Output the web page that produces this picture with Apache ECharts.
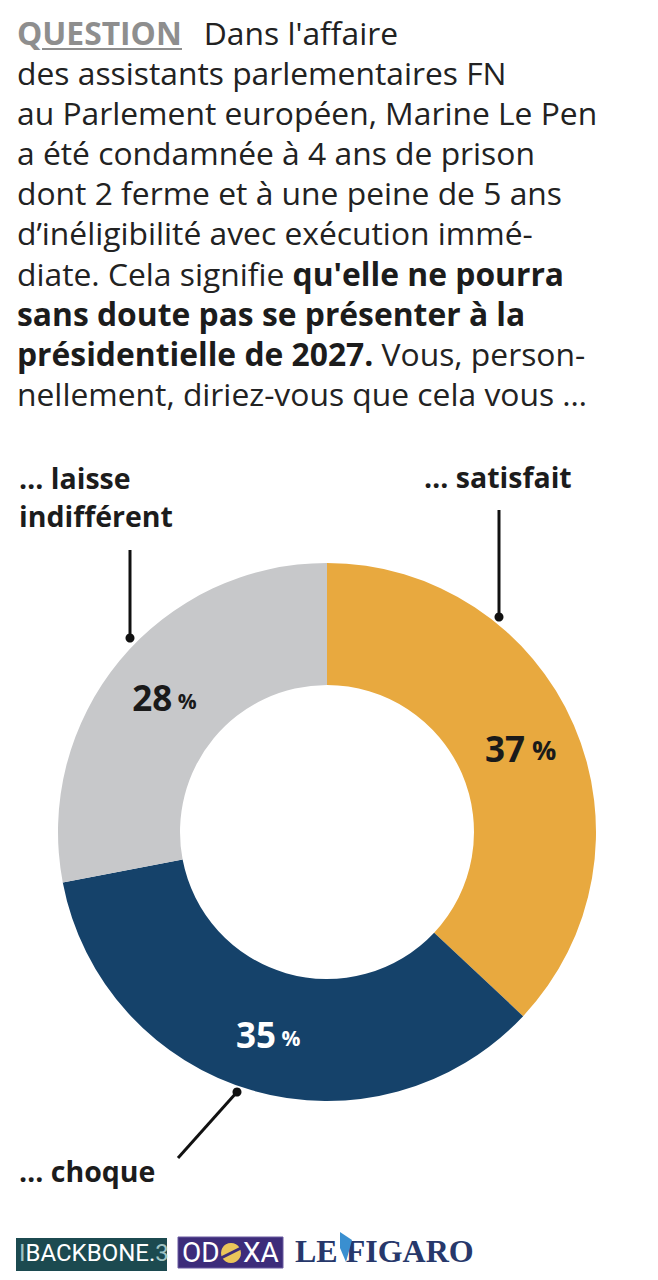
<!DOCTYPE html>
<html><head><meta charset="utf-8">
<script src="https://cdn.jsdelivr.net/npm/echarts@6/dist/echarts.min.js"></script>
<style>html,body{margin:0;padding:0;background:#fff}#c{width:658px;height:1280px}</style>
</head><body><div id="c"></div>
<script>
// ---- data ----
const categories = ['… satisfait', '… choque', '… laisse\nindifférent'];
const values = [37, 35, 28];
const colors = ['#E8A93F', '#15426A', '#C7C8CA'];
const labelColors = ['#1a1a1a', '#ffffff', '#1a1a1a'];
const pctSizes = [27, 21, 21];

const chart = echarts.init(document.getElementById('c'), null, {renderer: 'svg'});
const F = '"Open Sans", sans-serif';
const FS = 31.8, LH = 40.2;
const st = {
  n: {fontFamily: F, fontSize: FS, fill: '#222', lineHeight: LH},
  b: {fontFamily: F, fontSize: FS, fill: '#1c1c1c', fontWeight: 'bold', lineHeight: LH},
  q: {fontFamily: F, fontSize: FS, fill: '#8E8E8E', fontWeight: 'bold', lineHeight: LH, padding: [0, 22, 0, 0]}
};
const titleText = [
  '{q|QUESTION}{n|Dans l\'affaire}',
  '{n|des assistants parlementaires FN}',
  '{n|au Parlement européen, Marine Le Pen}',
  '{n|a été condamnée à 4 ans de prison}',
  '{n|dont 2 ferme et à une peine de 5 ans}',
  '{n|d’inéligibilité avec exécution immé-}',
  '{n|diate. Cela signifie }{b|qu\'elle ne pourra}',
  '{b|sans doute pas se présenter à la}',
  '{b|présidentielle de 2027.}{n| Vous, person-}',
  '{n|nellement, diriez-vous que cela vous …}'
].join('\n');

const calloutStyle = {fontFamily: F, fontSize: 28.5, fontWeight: 'bold', fill: '#1c1c1c', lineHeight: 38};
const narrow = '"Liberation Sans Narrow", "Roboto"';

chart.setOption({
  animation: false,
  series: [{
    type: 'pie',
    center: [327, 832],
    radius: [147, 269],
    startAngle: 90,
    clockwise: true,
    silent: true,
    avoidLabelOverlap: false,
    data: categories.map((c, i) => ({
      name: c, value: values[i],
      itemStyle: {color: colors[i]},
      label: {
        color: labelColors[i],
        formatter: p => '{v|' + p.value + '}{p| %}',
        rich: {
          v: {fontFamily: F, fontSize: 35, fontWeight: 'bold', color: labelColors[i]},
          p: {fontFamily: F, fontSize: pctSizes[i], fontWeight: 'bold', color: labelColors[i], padding: [pctSizes[i] > 24 ? 2 : 6, 0, 0, 0]}
        }
      }
    })),
    label: {show: true, position: 'inside'},
    labelLine: {show: false}
  }],
  graphic: [
    {type: 'text', left: 17, top: 16, style: {text: titleText, rich: st, fill: '#222'}},
    {type: 'line', shape: {x1: 42, y1: 49, x2: 182, y2: 49}, style: {stroke: '#8E8E8E', lineWidth: 2}},
    // callouts
    {type: 'text', x: 424, y: 458, style: Object.assign({text: categories[0]}, calloutStyle)},
    {type: 'line', shape: {x1: 499, y1: 510, x2: 499, y2: 617}, style: {stroke: '#111', lineWidth: 3}},
    {type: 'circle', shape: {cx: 499, cy: 617, r: 4.5}, style: {fill: '#111'}},
    {type: 'text', x: 19, y: 459, style: Object.assign({text: categories[2]}, calloutStyle)},
    {type: 'line', shape: {x1: 130, y1: 550, x2: 130, y2: 638}, style: {stroke: '#111', lineWidth: 3}},
    {type: 'circle', shape: {cx: 130, cy: 638, r: 4.5}, style: {fill: '#111'}},
    {type: 'text', x: 19, y: 1152, style: Object.assign({text: categories[1]}, calloutStyle)},
    {type: 'line', shape: {x1: 237, y1: 1092, x2: 178, y2: 1158}, style: {stroke: '#111', lineWidth: 3}},
    {type: 'circle', shape: {cx: 237, cy: 1092, r: 4.5}, style: {fill: '#111'}},
    // logos
    {type: 'rect', shape: {x: 16, y: 1238, width: 151, height: 33}, style: {fill: '#1C4A50'}},
    {type: 'text', x: 19, y: 1241, style: {text: '{l|I}{t|BACKBONE.}{l|3}', rich: {
      l: {fontFamily: narrow, fontSize: 24, fill: '#9FC3C4'},
      t: {fontFamily: narrow, fontSize: 24, fill: '#ffffff'}}}},
    {type: 'rect', shape: {x: 178, y: 1237, width: 105, height: 31}, style: {fill: '#3D2C7A', stroke: '#6A5BA0', lineWidth: 1}},
    {type: 'text', x: 182, y: 1238, style: {text: 'OD', fontFamily: 'Roboto', fontSize: 28, fill: '#fff'}},
    {type: 'circle', shape: {cx: 231, cy: 1253, r: 10}, style: {fill: '#EBC55A'}},
    {type: 'line', shape: {x1: 221, y1: 1258, x2: 241, y2: 1248}, style: {stroke: '#3D2C7A', lineWidth: 3}},
    {type: 'text', x: 243, y: 1238, style: {text: 'XA', fontFamily: 'Roboto', fontSize: 28, fill: '#fff'}},
    {type: 'text', x: 295, y: 1235, style: {text: 'LE FIGARO', fontFamily: '"Liberation Serif", serif', fontSize: 32, fontWeight: 'bold', fill: '#27386B'}},
    {type: 'polygon', shape: {points: [[340, 1232], [352, 1240], [346, 1262], [340, 1248]]}, style: {fill: '#3A8FD0'}}
  ]
});
</script></body></html>
